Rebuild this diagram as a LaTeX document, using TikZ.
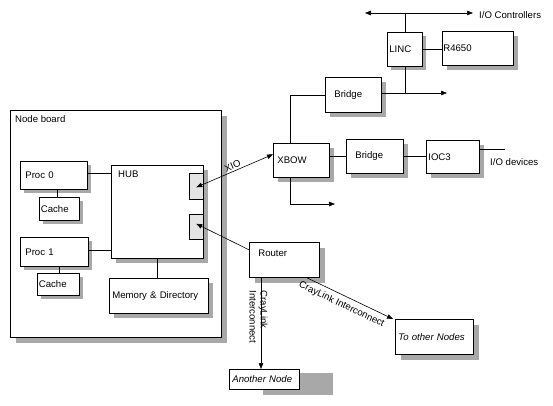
\documentclass[tikz,border=0pt]{standalone}
\usepackage{fontspec}
\setmainfont{Liberation Sans}
\usetikzlibrary{arrows.meta,calc}
\definecolor{shadowgray}{RGB}{168,168,168}
\definecolor{portgray}{RGB}{228,228,228}
% shadow rectangle: x, y, width, height, x offset, y offset
\newcommand\shd[6]{\fill[shadowgray] (#1+#5,#2+#6) rectangle (#1+#3+#5,#2+#4+#6);}
\begin{document}
\begin{tikzpicture}[x=1pt,y=-1pt,
  every node/.style={font=\fontsize{9.6}{11}\selectfont},
  box/.style={draw=black, line width=0.7pt, fill=white, anchor=north west,
    inner ysep=0pt, align=left},
  port/.style={draw=black, line width=0.6pt, fill=portgray, anchor=north west, inner sep=0pt},
  wire/.style={line width=0.6pt, black},
  arr/.style={wire, -{Triangle[length=6pt,width=4.5pt]}},
  barr/.style={wire, {Triangle[length=6pt,width=4.5pt]}-{Triangle[length=6pt,width=4.5pt]}},
  lbl/.style={inner sep=1.5pt}
]
\useasboundingbox (0,0) rectangle (553,406);

% Node board
\shd{10}{110}{211}{227}{6}{6}
\node[box, minimum width=211pt, minimum height=227pt, inner sep=0pt,
  label={[anchor=north west, inner sep=0pt, xshift=5pt, yshift=-5pt]north west:Node board}]
  (board) at (10,110) {};

% boxes on the board
\shd{20}{161}{67}{28}{4}{4}
\node[box, inner xsep=5pt, text width=57pt, minimum height=28pt] (proc0) at (20,161) {Proc 0};
\shd{39}{197}{40}{23}{4}{4}
\node[box, inner xsep=1.5pt, text width=37pt, minimum height=23pt] (cache0) at (39,197) {Cache};
\shd{20}{237}{68}{29}{4}{4}
\node[box, inner xsep=5pt, text width=58pt, minimum height=29pt] (proc1) at (20,237) {Proc 1};
\shd{37}{273}{42}{22}{4}{4}
\node[box, inner xsep=1.5pt, text width=39pt, minimum height=22pt] (cache1) at (37,273) {Cache};
\shd{111}{165}{92}{93}{5}{5}
\node[box, minimum width=92pt, minimum height=93pt, inner sep=0pt,
  label={[anchor=north west, inner sep=0pt, xshift=7pt, yshift=-6pt]north west:HUB}]
  (hub) at (111,165) {};
\node[port, minimum width=14pt, minimum height=26pt] (port1) at (189,173) {};
\node[port, minimum width=14pt, minimum height=25pt] (port2) at (189,214) {};
\shd{109}{278}{99}{35}{5}{5}
\node[box, inner xsep=3pt, text width=93pt, minimum height=35pt] (mem) at (109,278) {Memory \& Directory};

% I/O side
\shd{273}{143}{56}{34}{5}{5}
\node[box, inner xsep=4pt, text width=48pt, minimum height=34pt] (xbow) at (273,143) {XBOW};
\shd{346}{139}{57}{34}{5}{5}
\node[box, inner xsep=9pt, text width=39pt, minimum height=34pt] (bridge2) at (346,139) {Bridge};
\shd{426}{140}{53}{33}{5}{5}
\node[box, inner xsep=2pt, text width=49pt, minimum height=33pt] (ioc3) at (426,140) {IOC3};
\shd{325}{77}{56}{35}{5}{5}
\node[box, inner xsep=9pt, text width=38pt, minimum height=35pt] (bridge1) at (325,77) {Bridge};
\shd{387}{32}{35}{34}{4}{4}
\node[box, inner xsep=2pt, text width=31pt, minimum height=34pt] (linc) at (387,32) {LINC};
\shd{442}{31}{71}{34}{5}{5}
\node[box, inner xsep=1pt, text width=69pt, minimum height=34pt] (r4650) at (442,31) {R4650};

% router and other nodes
\shd{249}{242}{70}{35}{6}{6}
\node[box, inner xsep=9pt, text width=52pt, minimum height=35pt] (router) at (249,242) {Router\\[3pt]\mbox{}};
\shd{395}{319}{78}{35}{6}{6}
\node[box, inner xsep=3pt, text width=72pt, minimum height=35pt, font=\fontsize{9.6}{11}\selectfont\itshape] (other) at (395,319) {To other Nodes};
\shd{229}{369}{70}{22}{34}{4}
\node[box, inner xsep=3pt, text width=64pt, minimum height=20pt, font=\fontsize{9.6}{11}\selectfont\itshape] (another) at (229,369) {Another Node};

% free coordinates
\coordinate (ioL) at (365,13);
\coordinate (ioR) at (473,13);
\coordinate (b1out) at (447,93);
\coordinate (xout) at (335,204);
\coordinate (devend) at (505,149);

% board connections
\draw[wire] ([yshift=2pt]proc0.east) -- ([yshift=2pt]proc0.east -| hub.west);
\draw[wire] ([yshift=2pt]proc1.east) -- ([yshift=2pt]proc1.east -| hub.west);
\draw[wire] ([xshift=37pt]proc0.south west) -- ([xshift=37pt]proc0.south west |- cache0.north);
\draw[wire] ([xshift=39pt]proc1.south west) -- ([xshift=39pt]proc1.south west |- cache1.north);
\draw[wire] ([xshift=46pt]hub.south west) -- ([xshift=46pt]hub.south west |- mem.north);

% XIO
\draw[barr] ([shift={(0pt,-1pt)}]port1.center) -- node[midway, above, sloped, lbl] (xiolbl) {XIO} ([yshift=6pt]xbow.west);
% router to hub
\draw[arr] ([yshift=10pt]router.west) -- ([yshift=3pt]port2.center);

% XBOW connections
\draw[wire] ([xshift=17pt]xbow.north west) |- (bridge1.west);
\draw[arr] ([xshift=17pt]xbow.south west) |- (xout);
\draw[wire] (bridge2.west -| xbow.east) -- (bridge2.west);
\draw[wire] (bridge2.east) -- (bridge2.east -| ioc3.west);
\draw[wire] (ioc3.east |- devend) -- (devend);
\node[anchor=west, inner sep=0pt] (iodev) at (490,162) {I/O devices};

% upper bridge / LINC
\draw[arr] (bridge1.east |- b1out) -- (b1out);
\draw[wire] (linc.south) -- (linc.south |- b1out);
\draw[wire] (linc.east |- 0,49) -- (r4650.west |- 0,49);
\draw[barr] (ioL) -- (ioR);
\draw[wire] (linc.north) -- (linc.north |- ioL);
\node[anchor=west, inner sep=0pt] (ioctl) at (479,15) {I/O Controllers};

% CrayLink
\draw[arr] ([xshift=12pt]router.south west) -- ([xshift=12pt]router.south west |- another.north);
\node[rotate=-90, align=left, inner sep=0pt] (cl1) at (258.5,317) {CrayLink\\Interconnect};
\draw[arr] ([xshift=-13pt]router.south east) -- node[pos=0.45, below, sloped, inner sep=4.5pt] (cl2) {CrayLink Interconnect} ([xshift=-2pt]other.north west);
\end{tikzpicture}
\end{document}
